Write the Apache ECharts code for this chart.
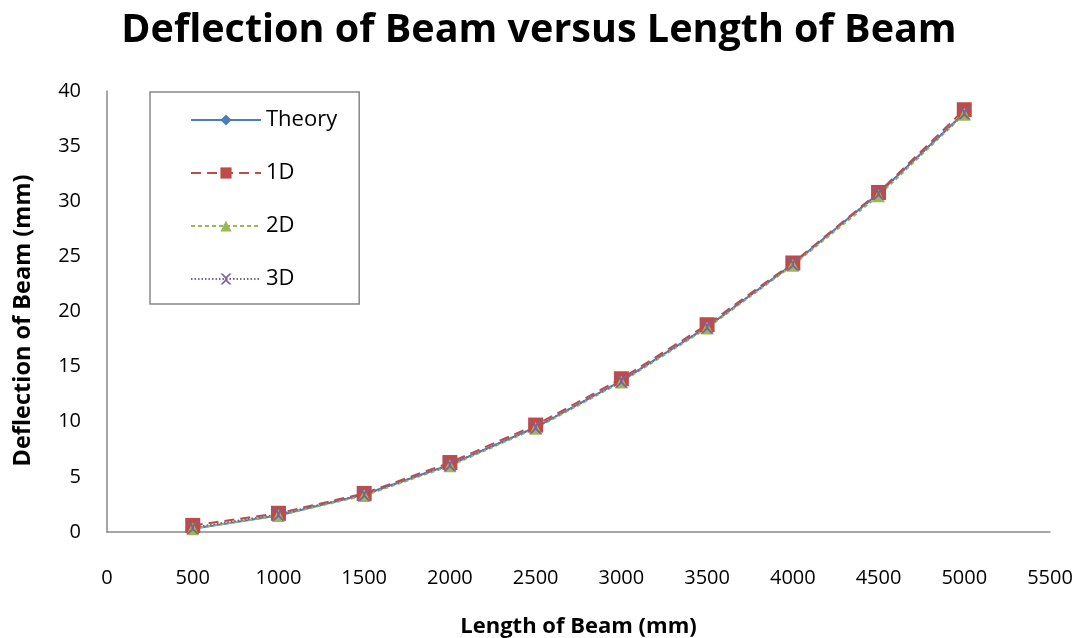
<!DOCTYPE html>
<html>
<head>
<meta charset="utf-8">
<script src="https://cdn.jsdelivr.net/npm/echarts@6/dist/echarts.min.js"></script>
<style>html,body{margin:0;padding:0;background:#fff}#c{width:1078px;height:638px}</style>
</head>
<body>
<div id="c"></div>
<script>
var lengths = [500, 1000, 1500, 2000, 2500, 3000, 3500, 4000, 4500, 5000];
var theory = [0.3, 1.5, 3.4, 6.1, 9.5, 13.7, 18.6, 24.3, 30.7, 38.0];
var d1 = [0.6, 1.7, 3.5, 6.3, 9.7, 13.9, 18.8, 24.4, 30.8, 38.3];
var d2 = [0.3, 1.5, 3.3, 6.0, 9.4, 13.6, 18.5, 24.2, 30.5, 37.9];
var d3 = [0.4, 1.6, 3.4, 6.1, 9.5, 13.7, 18.6, 24.3, 30.7, 38.0];

function pairs(v){ return lengths.map(function(x,i){ return [x, v[i]]; }); }
var FONT = '"Open Sans", Lato, sans-serif';
var xPath = 'path://M0,0 L2,0 L5,3 L8,0 L10,0 L6,4 L6,6 L10,10 L8,10 L5,7 L2,10 L0,10 L4,6 L4,4 Z';

var chart = echarts.init(document.getElementById('c'));
chart.setOption({
  animation: false,
  backgroundColor: '#fff',
  title: {
    text: 'Deflection of Beam versus Length of Beam',
    left: 'center', top: 6,
    textStyle: {fontFamily: FONT, fontSize: 39.5, fontWeight: 'bold', color: '#000'}
  },
  grid: {left: 107, right: 28, top: 91, bottom: 106, outerBoundsMode: 'none', containLabel: false},
  legend: {
    orient: 'vertical', left: 150, top: 92,
    padding: [17, 22, 14, 40],
    itemGap: 31,
    itemWidth: 70, itemHeight: 14,
    borderColor: '#888', borderWidth: 1.5,
    textStyle: {fontFamily: FONT, fontSize: 22, lineHeight: 21, color: '#000'},
    data: ['Theory', '1D', '2D', '3D']
  },
  xAxis: {
    type: 'value', min: 0, max: 5500, interval: 500,
    name: 'Length of Beam (mm)', nameLocation: 'middle', nameGap: 84,
    nameTextStyle: {fontFamily: FONT, fontSize: 22, fontWeight: 'bold', color: '#000'},
    axisLine: {show: true, lineStyle: {color: '#888', width: 1.5}},
    axisTick: {show: false},
    splitLine: {show: false},
    axisLabel: {fontFamily: FONT, fontSize: 20, color: '#000', margin: 36,
      formatter: function(v){ return String(v); }},
  },
  yAxis: {
    type: 'value', min: 0, max: 40, interval: 5,
    name: 'Deflection of Beam (mm)', nameLocation: 'middle', nameGap: 72, nameRotate: 90,
    nameTextStyle: {fontFamily: FONT, fontSize: 23.5, fontWeight: 'bold', color: '#000', padding: [0, 18, 0, 0]},
    axisLine: {show: true, lineStyle: {color: '#888', width: 1.5}},
    axisTick: {show: false},
    splitLine: {show: false},
    axisLabel: {fontFamily: FONT, fontSize: 20, color: '#000', margin: 26}
  },
  series: [
    {name: 'Theory', type: 'line', data: pairs(theory), symbol: 'diamond', symbolSize: 13,
     itemStyle: {color: '#4A7EBB'}, lineStyle: {color: '#4A7EBB', width: 2, type: 'solid'}},
    {name: '1D', type: 'line', data: pairs(d1), symbol: 'rect', symbolSize: 15,
     itemStyle: {color: '#BE4B48'}, lineStyle: {color: '#BE4B48', width: 2, type: [10, 6]}},
    {name: '2D', type: 'line', data: pairs(d2), symbol: 'triangle', symbolSize: 13,
     itemStyle: {color: '#98B954'}, lineStyle: {color: '#98B954', width: 2, type: [4, 3]}},
    {name: '3D', type: 'line', data: pairs(d3), symbol: xPath, symbolSize: 13,
     itemStyle: {color: '#7D60A0'}, lineStyle: {color: '#7D60A0', width: 2, type: [1.5, 2]}}
  ]
});
</script>
</body>
</html>
